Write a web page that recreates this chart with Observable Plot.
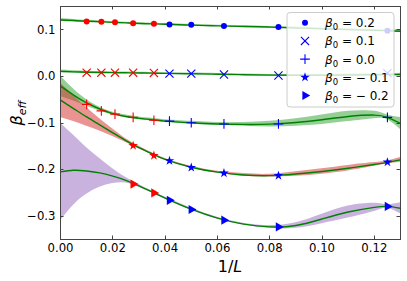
<!DOCTYPE html>
<html><head><meta charset="utf-8">
<script src="https://cdn.jsdelivr.net/npm/d3@7"></script>
<script src="https://cdn.jsdelivr.net/npm/@observablehq/plot@0.6"></script>
<style>body{margin:0;background:#fff} #chart{width:407px;height:281px}</style>
</head><body><div id="chart"></div>
<script>
// ---- data ----
const L = [100, 64, 48, 36, 28, 24, 20, 16, 12, 8];
const beta02  = [0.118, 0.1175, 0.116, 0.114, 0.113, 0.1115, 0.111, 0.108, 0.106, 0.098];
const beta01  = [0.008, 0.008, 0.008, 0.008, 0.0075, 0.006, 0.006, 0.004, 0.002, 0.007];
const beta00  = [-0.060, -0.074, -0.081, -0.088, -0.094, -0.096, -0.0996, -0.102, -0.102, -0.088];
const betaM01 = [null, null, null, -0.1486, -0.170, -0.181, -0.1955, -0.2075, -0.213, -0.184];
const betaM02 = [null, null, null, -0.231, -0.250, -0.266, -0.2857, -0.3085, -0.323, -0.279];

const fitX    = [0, 0.005, 0.01, 0.015, 0.02, 0.025, 0.03, 0.035, 0.04, 0.05, 0.06, 0.07, 0.08, 0.09, 0.1, 0.11, 0.12, 0.125, 0.13];
const fit02   = [0.121, 0.1198, 0.1185, 0.1172, 0.116, 0.1148, 0.1135, 0.1127, 0.112, 0.110, 0.1085, 0.107, 0.1058, 0.104, 0.102, 0.1003, 0.0987, 0.098, 0.097];
const err02   = [0.003, 0.0025, 0.002, 0.0018, 0.0015, 0.0015, 0.0015, 0.0015, 0.0015, 0.0015, 0.0015, 0.0015, 0.0015, 0.0018, 0.002, 0.002, 0.002, 0.002, 0.003];
const fit01   = [0.0107, 0.0098, 0.009, 0.0085, 0.008, 0.0077, 0.0074, 0.007, 0.0065, 0.0056, 0.0046, 0.0036, 0.0028, 0.0024, 0.0025, 0.003, 0.0035, 0.0038, 0.004];
const err01   = [0.003, 0.0025, 0.002, 0.0018, 0.0015, 0.0015, 0.0015, 0.0015, 0.0015, 0.0015, 0.0015, 0.0015, 0.0015, 0.0018, 0.002, 0.002, 0.002, 0.002, 0.003];
const fit00   = [-0.021, -0.040, -0.057, -0.070, -0.080, -0.086, -0.090, -0.093, -0.096, -0.0995, -0.102, -0.103, -0.1025, -0.099, -0.093, -0.086, -0.083, -0.088, -0.101];
const err00   = [0.022, 0.013, 0.007, 0.004, 0.003, 0.003, 0.003, 0.003, 0.003, 0.003, 0.003, 0.004, 0.006, 0.008, 0.010, 0.011, 0.008, 0.005, 0.013];
const fitM01  = [-0.051, -0.069, -0.087, -0.104, -0.121, -0.138, -0.153, -0.166, -0.178, -0.195, -0.2055, -0.2115, -0.213, -0.2095, -0.204, -0.197, -0.189, -0.1845, -0.179];
const errM01  = [0.037, 0.028, 0.020, 0.013, 0.008, 0.004, 0.003, 0.002, 0.002, 0.002, 0.002, 0.003, 0.003, 0.005, 0.006, 0.006, 0.004, 0.003, 0.005];
const fitM02  = [-0.205, -0.2015, -0.203, -0.207, -0.214, -0.223, -0.235, -0.248, -0.261, -0.285, -0.304, -0.317, -0.323, -0.320, -0.306, -0.291, -0.281, -0.279, -0.283];
const errM02  = [0.105, 0.075, 0.05, 0.031, 0.016, 0.006, 0.003, 0.002, 0.002, 0.002, 0.002, 0.002, 0.003, 0.006, 0.010, 0.013, 0.009, 0.004, 0.012];

const xTicks = [0, 0.02, 0.04, 0.06, 0.08, 0.10, 0.12];
const yTicks = [-0.3, -0.2, -0.1, 0.0, 0.1];
const legendLabels = ["0.2", "0.1", "0.0", "\u2212 0.1", "\u2212 0.2"];

// ---- build tables ----
const band = (fit, err) => fitX.map((x, i) => ({x, y: fit[i], lo: fit[i] - err[i], hi: fit[i] + err[i]}));
const pts = vals => L.map((l, i) => ({x: 1 / l, y: vals[i], L: l})).filter(d => d.y != null);
const ptColor = d => d.L > 24 ? "#ff0000" : "#0000ff";

const series = [
  {pts: pts(beta02),  band: band(fit02, err02),   bandFill: "#2ca02c", symbol: "circle",   r: 3,   filled: true},
  {pts: pts(beta01),  band: band(fit01, err01),   bandFill: "#2ca02c", symbol: "times",    r: 3.8, filled: false},
  {pts: pts(beta00),  band: band(fit00, err00),   bandFill: "#2ca02c", symbol: "plus",     r: 3.2, filled: false},
  {pts: pts(betaM01), band: band(fitM01, errM01), bandFill: "#d62728", symbol: "star",     r: 3,   filled: true},
  {pts: pts(betaM02), band: band(fitM02, errM02), bandFill: "#9467bd", symbol: "triangle", r: 3.4, filled: true, rotate: 90}
];

const marks = [];
for (const s of series) marks.push(Plot.areaY(s.band, {x: "x", y1: "lo", y2: "hi", fill: s.bandFill, fillOpacity: 0.5, curve: "natural"}));
for (const s of series) marks.push(Plot.line(s.band, {x: "x", y: "y", stroke: "#008000", strokeWidth: 1.4, curve: "natural"}));
for (const s of series) {
  const opts = {x: "x", y: "y", symbol: s.symbol, r: s.r, rotate: s.rotate || 0};
  if (s.filled) { opts.fill = ptColor; opts.stroke = "none"; }
  else { opts.stroke = ptColor; opts.fill = "none"; opts.strokeWidth = 1.1; }
  marks.push(Plot.dot(s.pts, opts));
}

const fmtY = d3.format(".1f");
const plot = Plot.plot({
  width: 407, height: 281,
  marginLeft: 60, marginRight: 7, marginTop: 6, marginBottom: 42,
  style: {fontFamily: "DejaVu Sans", fontSize: "11.7px", background: "white", color: "black", overflow: "visible"},
  x: {domain: [0, 0.13]},
  y: {domain: [-0.35, 0.15]},
  marks: [
    ...marks,
    Plot.axisX({ticks: xTicks, tickFormat: d3.format(".2f"), tickSize: 0, tickPadding: 4, label: null}),
    Plot.axisY({ticks: yTicks, tickFormat: fmtY, tickSize: 0, tickPadding: 5, label: null}),
    Plot.frame({stroke: "#444", strokeWidth: 1})
  ]
});
document.getElementById("chart").appendChild(plot);

// ---- inward ticks on all four sides, from the plot's own scales ----
const svg = d3.select(plot);
const sx = plot.scale("x"), sy = plot.scale("y");
const [x0, x1] = sx.range, [yb, yt] = sy.range;
const tk = 3.5;
const g = svg.append("g").attr("stroke", "#444").attr("stroke-width", 1);
for (const t of xTicks) {
  const px = Math.round(sx.apply(t)) + 0.5;
  g.append("line").attr("x1", px).attr("x2", px).attr("y1", yb).attr("y2", yb - tk);
  g.append("line").attr("x1", px).attr("x2", px).attr("y1", yt).attr("y2", yt + tk);
}
for (const t of yTicks) {
  const py = Math.round(sy.apply(t)) + 0.5;
  g.append("line").attr("y1", py).attr("y2", py).attr("x1", x0).attr("x2", x0 + tk);
  g.append("line").attr("y1", py).attr("y2", py).attr("x1", x1).attr("x2", x1 - tk);
}

// ---- axis labels ----
svg.append("text").attr("x", (x0 + x1) / 2).attr("y", 272).attr("text-anchor", "middle")
  .attr("font-family", "DejaVu Sans").attr("font-size", 16)
  .html('1/<tspan font-style="italic">L</tspan>');
svg.append("text").attr("transform", "translate(22,113) rotate(-90)").attr("text-anchor", "middle")
  .attr("font-family", "DejaVu Sans").attr("font-size", 16)
  .html('<tspan font-style="italic">β</tspan><tspan font-style="italic" font-size="11" dy="4">eff</tspan>');

// ---- legend ----
const lg = svg.append("g").attr("text-anchor", "start");
lg.append("rect").attr("x", 287).attr("y", 12.5).attr("width", 107).attr("height", 94.5).attr("rx", 3)
  .attr("fill", "white").attr("fill-opacity", 0.8).attr("stroke", "#cccccc").attr("stroke-width", 1);
const symMap = {circle: d3.symbolCircle, times: d3.symbolTimes, plus: d3.symbolPlus, star: d3.symbolStar, triangle: d3.symbolTriangle};
series.forEach((s, i) => {
  const cy = 22.7 + i * 18.2;
  const path = d3.symbol(symMap[s.symbol], Math.PI * s.r * s.r)();
  const p = lg.append("path").attr("d", path).attr("transform", `translate(305,${cy}) rotate(${s.rotate || 0})`);
  if (s.filled) p.attr("fill", "#0000ff"); else p.attr("fill", "none").attr("stroke", "#0000ff").attr("stroke-width", 1.1);
  lg.append("text").attr("x", 325).attr("y", cy + 4.5).attr("text-anchor", "start")
    .attr("font-family", "DejaVu Sans").attr("font-size", 12)
    .html(`<tspan font-style="italic">β</tspan><tspan font-size="8.5" dy="3">0</tspan><tspan dy="-3"> = ${legendLabels[i]}</tspan>`);
});
</script></body></html>
